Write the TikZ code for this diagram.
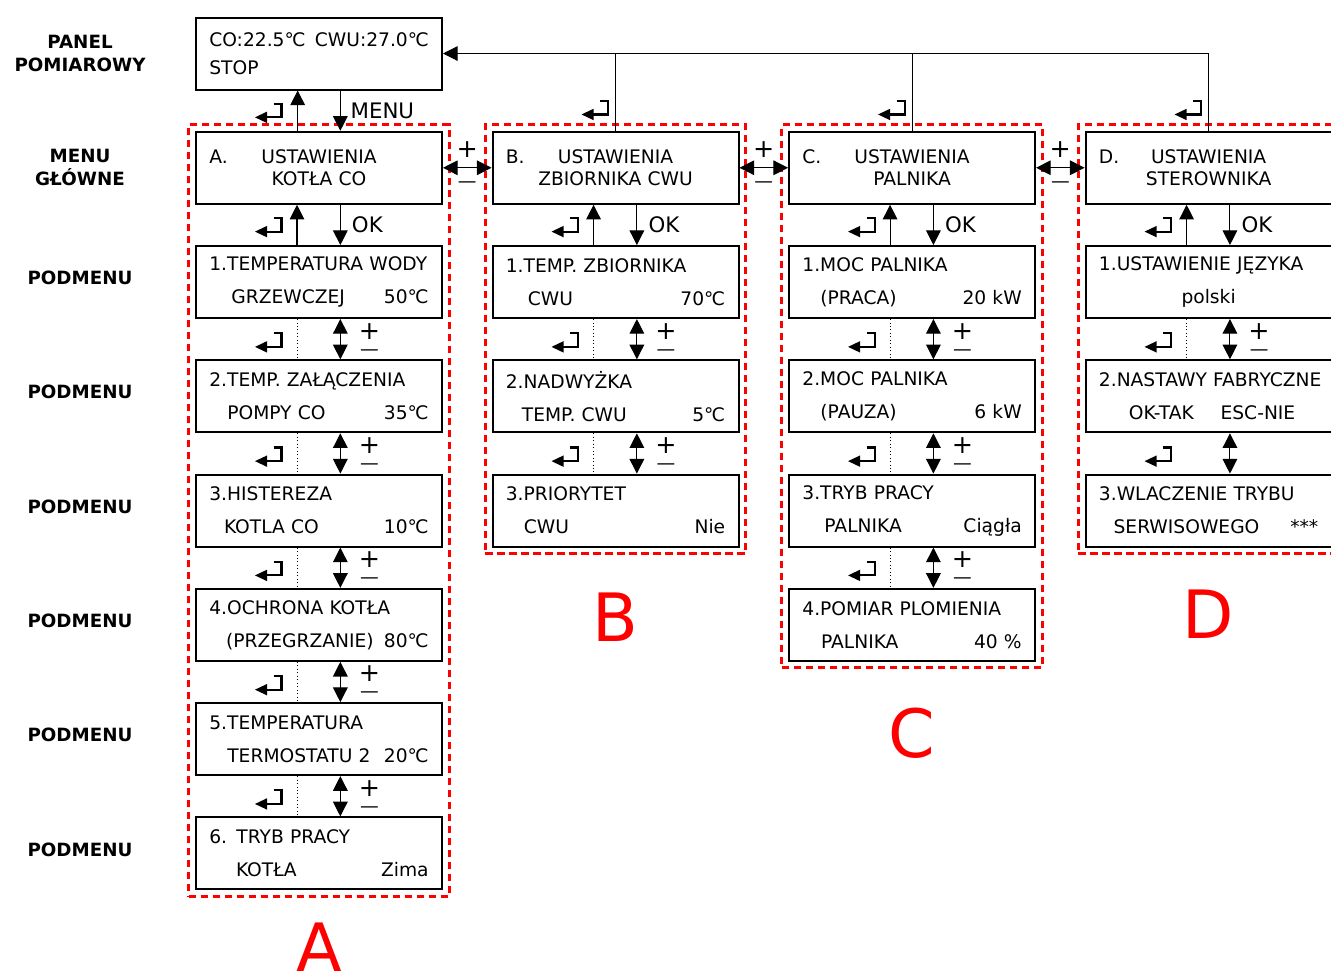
\documentclass[tikz,border=0pt]{standalone}
\usepackage{fontspec}
\setmainfont{DejaVu Sans}
\usetikzlibrary{positioning,arrows.meta,calc,fit}

\tikzset{
  menubox/.style={draw, line width=1.5pt, minimum height=54pt, text width=164.5pt,
    inner xsep=10pt, align=left, font=\fontsize{14}{24.75}\selectfont},
  mainbox/.style={menubox, align=center, font=\fontsize{14}{16.5}\selectfont},
  rowlabel/.style={align=center, font=\bfseries\fontsize{13.7}{17}\selectfont},
  group/.style={draw=red, line width=2.2pt, dash pattern=on 5.5pt off 3.5pt,
    inner xsep=4.7pt, inner ysep=4.5pt},
  bigletter/.style={text=red, inner sep=0pt, font=\fontsize{50}{50}\selectfont},
  keylabel/.style={font=\fontsize{16}{16}\selectfont},
  pmlabel/.style={right=13.5pt, inner sep=0pt, align=center, font=\fontsize{19}{12}\selectfont},
  link/.style={line width=0.8pt, -{Triangle[length=11pt,width=11pt]}},
  twoway/.style={line width=0.8pt, {Triangle[length=11pt,width=11pt]}-{Triangle[length=11pt,width=11pt]}},
  retsym/.pic={
    \draw[line width=1.6pt] (4.5,-9) -- (12.5,-9) -- (12.5,4.7) -- (-3,4.7);
    \fill (-14,4.7) -- (-2,-1) -- (-2,10.4) -- cycle;
  }
}

\begin{document}
\begin{tikzpicture}[x=0.75pt, y=-0.75pt, node distance=85.7pt]
    \useasboundingbox (0,0) rectangle (1331,976);

    % panel and main menu
    \node (panel) [menubox, font=\fontsize{14}{21}\selectfont] at (319,53.5) {\mbox{CO:22.5℃\hspace{7pt}CWU:27.0℃}\\STOP};
    \node (mA) [mainbox, below of=panel] {\hbox to\hsize{\rlap{A.}\hfil USTAWIENIA\hfil}\\KOTŁA CO};
    \node (mB) [mainbox, node distance=222.4pt, right of=mA] {\hbox to\hsize{\rlap{B.}\hfil USTAWIENIA\hfil}\\ZBIORNIKA CWU};
    \node (mC) [mainbox, node distance=222.4pt, right of=mB] {\hbox to\hsize{\rlap{C.}\hfil USTAWIENIA\hfil}\\PALNIKA};
    \node (mD) [mainbox, node distance=222.4pt, right of=mC] {\hbox to\hsize{\rlap{D.}\hfil USTAWIENIA\hfil}\\STEROWNIKA};

    % submenus A
    \node (sA1) [menubox, below of=mA] {1.TEMPERATURA WODY\\\hspace*{16.5pt}GRZEWCZEJ\hfill 50℃};
    \node (sA2) [menubox, below of=sA1] {2.TEMP. ZAŁĄCZENIA\\\hspace*{13.5pt}POMPY CO\hfill 35℃};
    \node (sA3) [menubox, below of=sA2] {3.HISTEREZA\\\hspace*{11pt}KOTLA CO\hfill 10℃};
    \node (sA4) [menubox, below of=sA3] {4.OCHRONA KOTŁA\\\hspace*{12.5pt}(PRZEGRZANIE)\hfill 80℃};
    \node (sA5) [menubox, below of=sA4] {5.TEMPERATURA\\\hspace*{13.5pt}TERMOSTATU 2\hfill 20℃};
    \node (sA6) [menubox, below of=sA5] {6. TRYB PRACY\\\hspace*{20pt}KOTŁA\hfill Zima};

    % submenus B
    \node (sB1) [menubox, below of=mB] {1.TEMP. ZBIORNIKA\\\hspace*{16.5pt}CWU\hfill 70℃};
    \node (sB2) [menubox, below of=sB1] {2.NADWYŻKA\\\hspace*{12pt}TEMP. CWU\hfill 5℃};
    \node (sB3) [menubox, below of=sB2] {3.PRIORYTET\\\hspace*{13.5pt}CWU\hfill Nie};

    % submenus C
    \node (sC1) [menubox, below of=mC] {1.MOC PALNIKA\\\hspace*{13.5pt}(PRACA)\hfill 20 kW};
    \node (sC2) [menubox, below of=sC1] {2.MOC PALNIKA\\\hspace*{13.5pt}(PAUZA)\hfill 6 kW};
    \node (sC3) [menubox, below of=sC2] {3.TRYB PRACY\\\hspace*{16.5pt}PALNIKA\hfill Ciągła};
    \node (sC4) [menubox, below of=sC3] {4.POMIAR PLOMIENIA\\\hspace*{14pt}PALNIKA\hfill 40 \%};

    % submenus D
    \node (sD1) [menubox, below of=mD] {1.USTAWIENIE JĘZYKA\\\hbox to\hsize{\hfil polski\hfil}};
    \node (sD2) [menubox, below of=sD1] {\mbox{2.NASTAWY FABRYCZNE}\\\hspace*{22.5pt}OK-TAK\hspace{20pt}ESC-NIE};
    \node (sD3) [menubox, below of=sD2] {3.WLACZENIE TRYBU\\\hspace*{11pt}SERWISOWEGO\hfill ***};

    % row labels
    \node (lPanel) [rowlabel, node distance=179.25pt, left of=panel] {PANEL\\POMIAROWY};
    \node (lMain) [rowlabel, node distance=179.25pt, left of=mA] {MENU\\GŁÓWNE};
    \foreach \n in {1,...,6}
        \node (lSub\n) [rowlabel, node distance=179.25pt, left of=sA\n, yshift=3pt] {PODMENU};

    % groups
    \node (gA) [group, fit=(mA)(sA6)] {};
    \node (gB) [group, fit=(mB)(sB3)] {};
    \node (gC) [group, fit=(mC)(sC4)] {};
    \node (gD) [group, fit=(mD)(sD3)] {};
    \node (letA) [bigletter, below=18.75pt of gA] {A};
    \node (letB) [bigletter, below=28.5pt of gB] {B};
    \node (letC) [bigletter, below=28.5pt of gC] {C};
    \node (letD) [bigletter, below=26pt of gD] {D};

    % Arrows
    \draw [link] ([xshift=-16pt]mA.north) -- ([xshift=-16pt]panel.south);
    \draw [link] ([xshift=16pt]panel.south) -- node[keylabel, right=4pt] {MENU} ([xshift=16pt]mA.north);
    \pic at ($(panel.south)!0.5!(mA.north)+(-50,2)$) {retsym};
    \draw [link] (mD.north) |- (panel.east);
    \foreach \m in {mB,mC}
        \draw [line width=0.8pt] (\m.north) -- (\m.north |- panel.east);
    \foreach \m in {mB,mC,mD}
        \pic at ($(\m.north)+(-20,-21)$) {retsym};

    \foreach \a/\b in {mA/mB, mB/mC, mC/mD}
        \draw [twoway] (\a.east) -- node[above=4pt, font=\fontsize{19}{19}\selectfont] {+}
            node[below=7pt, font=\fontsize{14}{14}\selectfont] {—} (\b.west);

    \foreach \c in {A,B,C,D} {
        \draw [link] ([xshift=-16.5pt]s\c1.north) -- ([xshift=-16.5pt]m\c.south);
        \draw [link] ([xshift=16pt]m\c.south) -- node[keylabel, right=5pt] {OK} ([xshift=16pt]s\c1.north);
        \pic at ($(m\c.south)!0.5!(s\c1.north)+(-50,2)$) {retsym};
    }

    \foreach \a/\b in {sA1/sA2, sA2/sA3, sA3/sA4, sA4/sA5, sA5/sA6, sB1/sB2, sB2/sB3,
                       sC1/sC2, sC2/sC3, sC3/sC4, sD1/sD2} {
        \draw [dotted, line width=0.6pt] ([xshift=-16.5pt]\a.south) -- ([xshift=-16.5pt]\b.north);
        \draw [twoway] ([xshift=16pt]\a.south) -- node[pmlabel] {+\\{\fontsize{14}{12}\selectfont —}} ([xshift=16pt]\b.north);
        \pic at ($(\a.south)!0.5!(\b.north)+(-50,3)$) {retsym};
    }
    \draw [twoway] ([xshift=16pt]sD2.south) -- ([xshift=16pt]sD3.north);
    \pic at ($(sD2.south)!0.5!(sD3.north)+(-50,3)$) {retsym};
\end{tikzpicture}
\end{document}
